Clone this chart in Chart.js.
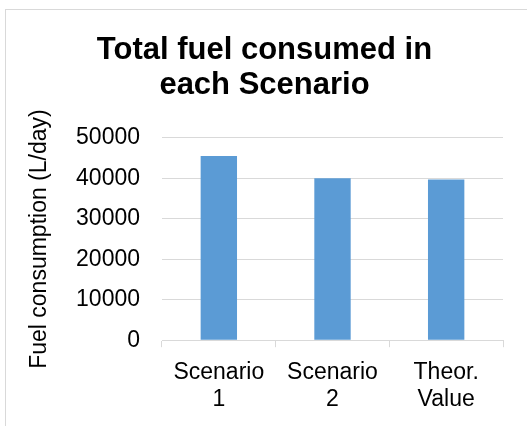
<!DOCTYPE html>
<html lang="en">
	<head>
		<meta charset="utf-8">
		<title>Total fuel consumed in each Scenario</title>
		<style>
			html, body {
				margin: 0;
				padding: 0;
				background-color: #FFF;
			}
			#frame {
				position: absolute;
				left: 5px;
				top: 9px;
				width: 540px;
				height: 440px;
				border: 1px solid #d9d9d9;
			}
			#wrap {
				position: absolute;
				left: 0;
				top: 0;
				width: 527px;
				height: 426px;
			}
		</style>
		<script src="https://cdn.jsdelivr.net/npm/chart.js"></script>
	</head>
	<body>
		<div id="frame"></div>
		<div id="wrap"><canvas id="fuel"></canvas></div>
		<script>
			const categories = [["Scenario", "1"], ["Scenario", "2"], ["Theor.", "Value"]];
			const fuelUsed = [45500, 40000, 39750];
			const yTicks = [0, 10000, 20000, 30000, 40000, 50000];

			const font = "'Liberation Sans', Arial, sans-serif";
			const grey = "#d9d9d9";

			const config = {
				type: "bar",
				data: {
					labels: categories,
					datasets: [{
						label: "Fuel consumption",
						data: fuelUsed,
						backgroundColor: "#5b9bd5",
						borderWidth: 0,
						barPercentage: 0.32,
						categoryPercentage: 1
					}]
				},
				options: {
					responsive: false,
					animation: false,
					layout: {
						padding: { left: 26, right: 24, top: 0, bottom: 1 }
					},
					plugins: {
						legend: { display: false },
						tooltip: { enabled: false },
						title: {
							display: true,
							text: ["Total fuel consumed in", "each Scenario"],
							color: "#000",
							font: { family: font, size: 31, weight: "bold", lineHeight: 1.16 },
							padding: { top: 32, bottom: 34 }
						}
					},
					scales: {
						x: {
							grid: {
								offset: true,
								drawOnChartArea: false,
								drawTicks: true,
								tickLength: 7,
								color: grey
							},
							border: { color: grey },
							ticks: {
								color: "#000",
								padding: 12,
								maxRotation: 0,
								font: { family: font, size: 23, lineHeight: 1.17 }
							}
						},
						y: {
							min: 0,
							max: 50000,
							afterBuildTicks: scale => {
								scale.ticks = yTicks.map(v => ({ value: v }));
							},
							afterFit: scale => {
								scale.width = 136;
							},
							grid: {
								color: grey,
								drawTicks: false
							},
							border: { display: false },
							ticks: {
								color: "#000",
								padding: 22,
								font: { family: font, size: 23 },
								callback: v => String(v)
							},
							title: {
								display: true,
								text: "Fuel consumption (L/day)",
								color: "#000",
								padding: 0,
								font: { family: font, size: 23 }
							}
						}
					}
				}
			};

			const canvas = document.getElementById("fuel");
			canvas.width = 527;
			canvas.height = 426;
			new Chart(canvas, config);
		</script>
	</body>
</html>
